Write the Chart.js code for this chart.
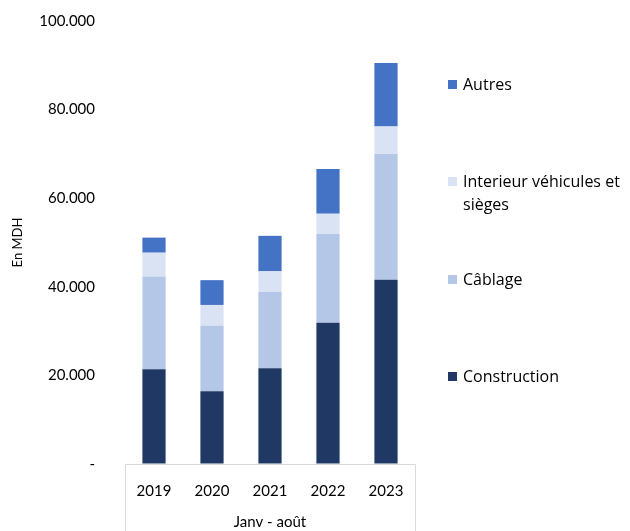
<!DOCTYPE html>
<html>
<head>
<meta charset="utf-8">
<script src="https://cdn.jsdelivr.net/npm/chart.js@4/dist/chart.umd.min.js"></script>
<style>
  html, body { margin: 0; padding: 0; background: #fff; }
  #wrap { position: relative; width: 630px; height: 531px; overflow: hidden; }
  #legend { position: absolute; left: 448px; top: 0; font-family: "Open Sans", sans-serif; font-size: 16px; color: #000; }
  .item { position: absolute; left: 0; width: 167px; line-height: 23px; padding-left: 15px; }
  .sw { position: absolute; left: 0; top: 7px; width: 9px; height: 9px; }
</style>
</head>
<body>
<div id="wrap">
  <canvas id="chart" width="630" height="531"></canvas>
  <div id="legend"></div>
</div>
<script>
const years = ['2019', '2020', '2021', '2022', '2023'];
const construction = [21400, 16400, 21600, 31900, 41600];
const cablage = [20900, 14800, 17300, 20100, 28400];
const interieur = [5400, 4700, 4600, 4500, 6200];
const autres = [3400, 5600, 8000, 10100, 14300];

const seriesNames = ['Construction', 'Câblage', 'Interieur véhicules et sièges', 'Autres'];
const seriesColors = ['#1F3864', '#B4C7E7', '#DAE3F3', '#4472C4'];
const seriesData = [construction, cablage, interieur, autres];

const font = 'Lato, sans-serif';

// light grey box under the x axis, like the category table in the original
const axisBox = {
  id: 'axisBox',
  afterDraw(chart) {
    const { ctx, chartArea } = chart;
    ctx.save();
    ctx.strokeStyle = '#D9D9D9';
    ctx.lineWidth = 1;
    ctx.beginPath();
    ctx.moveTo(chartArea.left + 0.5, chart.height);
    ctx.lineTo(chartArea.left + 0.5, chartArea.bottom + 0.5);
    ctx.lineTo(chartArea.right + 0.5, chartArea.bottom + 0.5);
    ctx.lineTo(chartArea.right + 0.5, chart.height);
    ctx.stroke();
    ctx.restore();
  }
};

const fmt = v => v === 0 ? '-' : String(v).replace(/\B(?=(\d{3})+(?!\d))/g, '.');

new Chart(document.getElementById('chart'), {
  type: 'bar',
  data: {
    labels: years,
    datasets: seriesNames.map((name, i) => ({
      label: name,
      data: seriesData[i],
      backgroundColor: seriesColors[i],
      borderWidth: 0,
      barPercentage: 0.4,
      categoryPercentage: 1
    }))
  },
  options: {
    responsive: false,
    animation: false,
    layout: { padding: { top: 21, right: 215, bottom: 0, left: 0 } },
    plugins: { legend: { display: false }, tooltip: { enabled: false } },
    scales: {
      x: {
        stacked: true,
        grid: { display: false, drawTicks: false },
        border: { display: false },
        ticks: { color: '#000', font: { family: font, size: 15 }, padding: 18 },
        title: { display: true, text: 'Janv - août', color: '#000', font: { family: font, size: 15 }, padding: 0 },
        afterFit: s => { s.height = 67; }
      },
      y: {
        stacked: true,
        min: 0,
        max: 100000,
        // invisible tick marks keep the labels away from the bars
        grid: { display: true, drawOnChartArea: false, drawTicks: true, tickLength: 26, tickColor: 'rgba(0,0,0,0)' },
        border: { display: false },
        ticks: { stepSize: 20000, color: '#000', font: { family: font, size: 15 }, padding: 4, callback: fmt },
        title: { display: true, text: 'En MDH', color: '#000', font: { family: font, size: 13 }, padding: { top: 10, bottom: 0 } },
        afterFit: s => { s.width = 125; }
      }
    }
  },
  plugins: [axisBox]
});

// legend on the right, top series first
const legendTops = [365, 268, 170, 73];
const legend = document.getElementById('legend');
seriesNames.forEach((name, i) => {
  const el = document.createElement('div');
  el.className = 'item';
  el.style.top = legendTops[i] + 'px';
  el.innerHTML = '<span class="sw" style="background:' + seriesColors[i] + '"></span>' + name;
  legend.appendChild(el);
});
</script>
</body>
</html>
